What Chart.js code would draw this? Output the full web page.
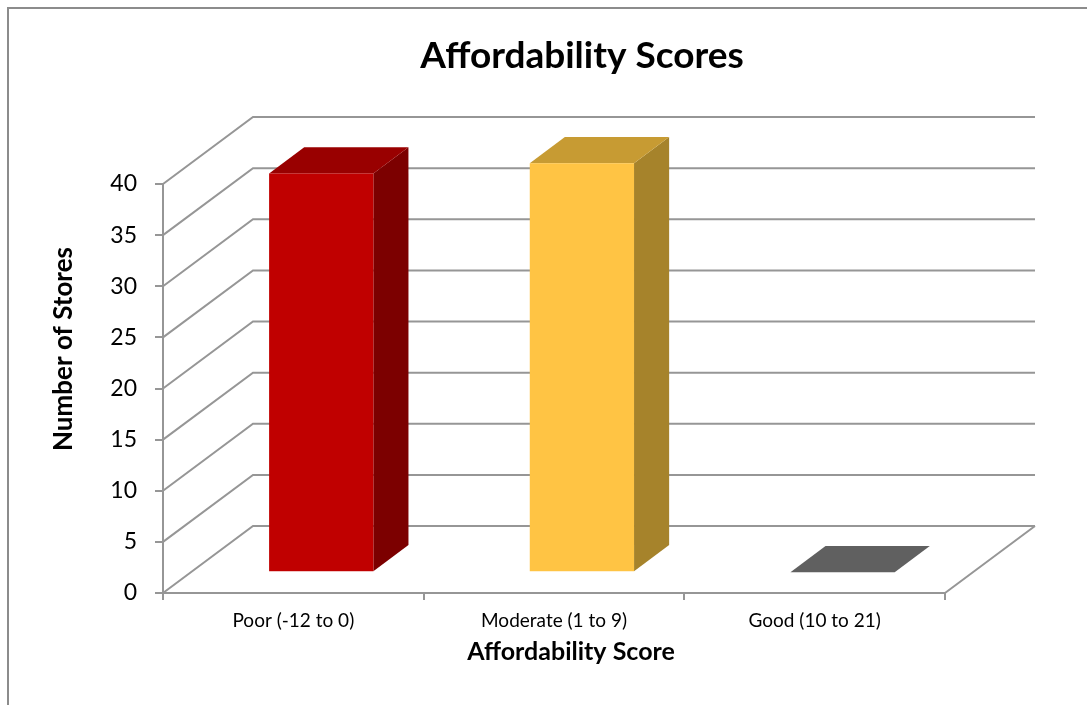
<!DOCTYPE html>
<html>
<head>
<meta charset="utf-8">
<title>Affordability Scores</title>
<script src="https://cdn.jsdelivr.net/npm/chart.js@4.4.1/dist/chart.umd.min.js"></script>
<style>
  html, body { margin: 0; padding: 0; background: #fff; overflow: hidden; }
  #wrap { width: 1087px; height: 705px; }
</style>
</head>
<body>
<div id="wrap"><canvas id="chartScores" width="1087" height="705"></canvas></div>
<script>
const categories = ['Poor (-12 to 0)', 'Moderate (1 to 9)', 'Good (10 to 21)'];
const storeCounts = [39, 40, 0];
const frontColors = ['#c00000', '#ffc444', '#606060'];
const topColors = ['#990000', '#c79b33', '#606060'];
const sideColors = ['#7c0000', '#a6832b', '#4a4a4a'];
const chartTitle = 'Affordability Scores';
const xTitle = 'Affordability Score';
const yTitle = 'Number of Stores';

// oblique depth of walls/floor, and where the bars sit inside that depth
const DEPTH_X = 90, DEPTH_Y = -67;
const BAR_FRONT = 0.31, BAR_DEPTH = 0.39;
const GRID = '#969696';

function poly(ctx, color, pts) {
  ctx.fillStyle = color;
  ctx.beginPath();
  pts.forEach((p, i) => i ? ctx.lineTo(p[0], p[1]) : ctx.moveTo(p[0], p[1]));
  ctx.closePath();
  ctx.fill();
}

const box3d = {
  id: 'box3d',
  beforeDraw(chart) {
    const ctx = chart.ctx;
    ctx.save();
    ctx.fillStyle = '#fff';
    ctx.fillRect(0, 0, chart.width, chart.height);
    ctx.strokeStyle = '#8c8c8c';
    ctx.lineWidth = 2;
    ctx.beginPath();
    ctx.moveTo(8, chart.height);
    ctx.lineTo(8, 8);
    ctx.lineTo(chart.width, 8);
    ctx.stroke();
    ctx.restore();
  },
  beforeDatasetsDraw(chart) {
    const { ctx, chartArea: a, scales: { y } } = chart;
    ctx.save();
    // side wall + back wall gridlines
    ctx.strokeStyle = GRID;
    ctx.lineWidth = 2;
    ctx.beginPath();
    y.ticks.forEach(t => {
      const py = y.getPixelForValue(t.value);
      ctx.moveTo(a.left, py);
      ctx.lineTo(a.left + DEPTH_X, py + DEPTH_Y);
      ctx.lineTo(a.right + DEPTH_X, py + DEPTH_Y);
    });
    const y0 = y.getPixelForValue(0);
    ctx.moveTo(a.right, y0);
    ctx.lineTo(a.right + DEPTH_X, y0 + DEPTH_Y);
    ctx.stroke();

    // bars as boxes: side, top, then front face
    const meta = chart.getDatasetMeta(0);
    const ox = BAR_FRONT * DEPTH_X, oy = BAR_FRONT * DEPTH_Y;
    const dx = BAR_DEPTH * DEPTH_X, dy = BAR_DEPTH * DEPTH_Y;
    meta.data.forEach((bar, i) => {
      const { x: cx, y: top, base, width } = bar.getProps(['x', 'y', 'base', 'width'], true);
      const l = cx - width / 2 + ox, r = cx + width / 2 + ox;
      const t = top + oy, b = base + oy;
      if (b - t > 0.5) poly(ctx, sideColors[i], [[r, t], [r + dx, t + dy], [r + dx, b + dy], [r, b]]);
      poly(ctx, topColors[i], [[l, t], [r, t], [r + dx, t + dy], [l + dx, t + dy]]);
      if (b - t > 0.5) {
        ctx.fillStyle = frontColors[i];
        ctx.fillRect(l, t, r - l, b - t);
      }
    });
    ctx.restore();
    return false;
  },
  afterDraw(chart) {
    // titles are centred on the whole chart frame / 3D box, not on the front axes
    const ctx = chart.ctx;
    ctx.save();
    ctx.fillStyle = '#000';
    ctx.textAlign = 'center';
    ctx.textBaseline = 'alphabetic';
    ctx.font = 'bold 37px Lato';
    ctx.fillText(chartTitle, 582, 68);
    ctx.font = 'bold 25px Lato';
    ctx.fillText(xTitle, 571, 660);
    ctx.translate(72, 349);
    ctx.rotate(-Math.PI / 2);
    ctx.font = 'bold 26px Lato';
    ctx.fillText(yTitle, 0, 0);
    ctx.restore();
  }
};

Chart.defaults.font.family = 'Lato';
Chart.defaults.color = '#000';

new Chart(document.getElementById('chartScores').getContext('2d'), {
  type: 'bar',
  data: {
    labels: categories,
    datasets: [{ label: yTitle, data: storeCounts, backgroundColor: frontColors }]
  },
  options: {
    responsive: false,
    animation: false,
    layout: { padding: { left: 0, right: 142, top: 184, bottom: 0 } },
    datasets: { bar: { categoryPercentage: 1, barPercentage: 0.4 } },
    plugins: {
      legend: { display: false },
      tooltip: { enabled: false },
      title: { display: false }
    },
    scales: {
      x: {
        grid: { drawOnChartArea: false, tickLength: 7, color: GRID, lineWidth: 2, offset: true },
        border: { color: GRID, width: 2 },
        ticks: { font: { size: 19 }, padding: 9 },
        afterFit: s => { s.height = 112; }
      },
      y: {
        min: 0,
        max: 40,
        ticks: { stepSize: 5, padding: 18, font: { size: 23 } },
        grid: { drawOnChartArea: false, tickLength: 8, color: GRID, lineWidth: 2 },
        border: { color: GRID, width: 2 },
        afterFit: s => { s.width = 163; }
      }
    }
  },
  plugins: [box3d]
});
</script>
</body>
</html>
